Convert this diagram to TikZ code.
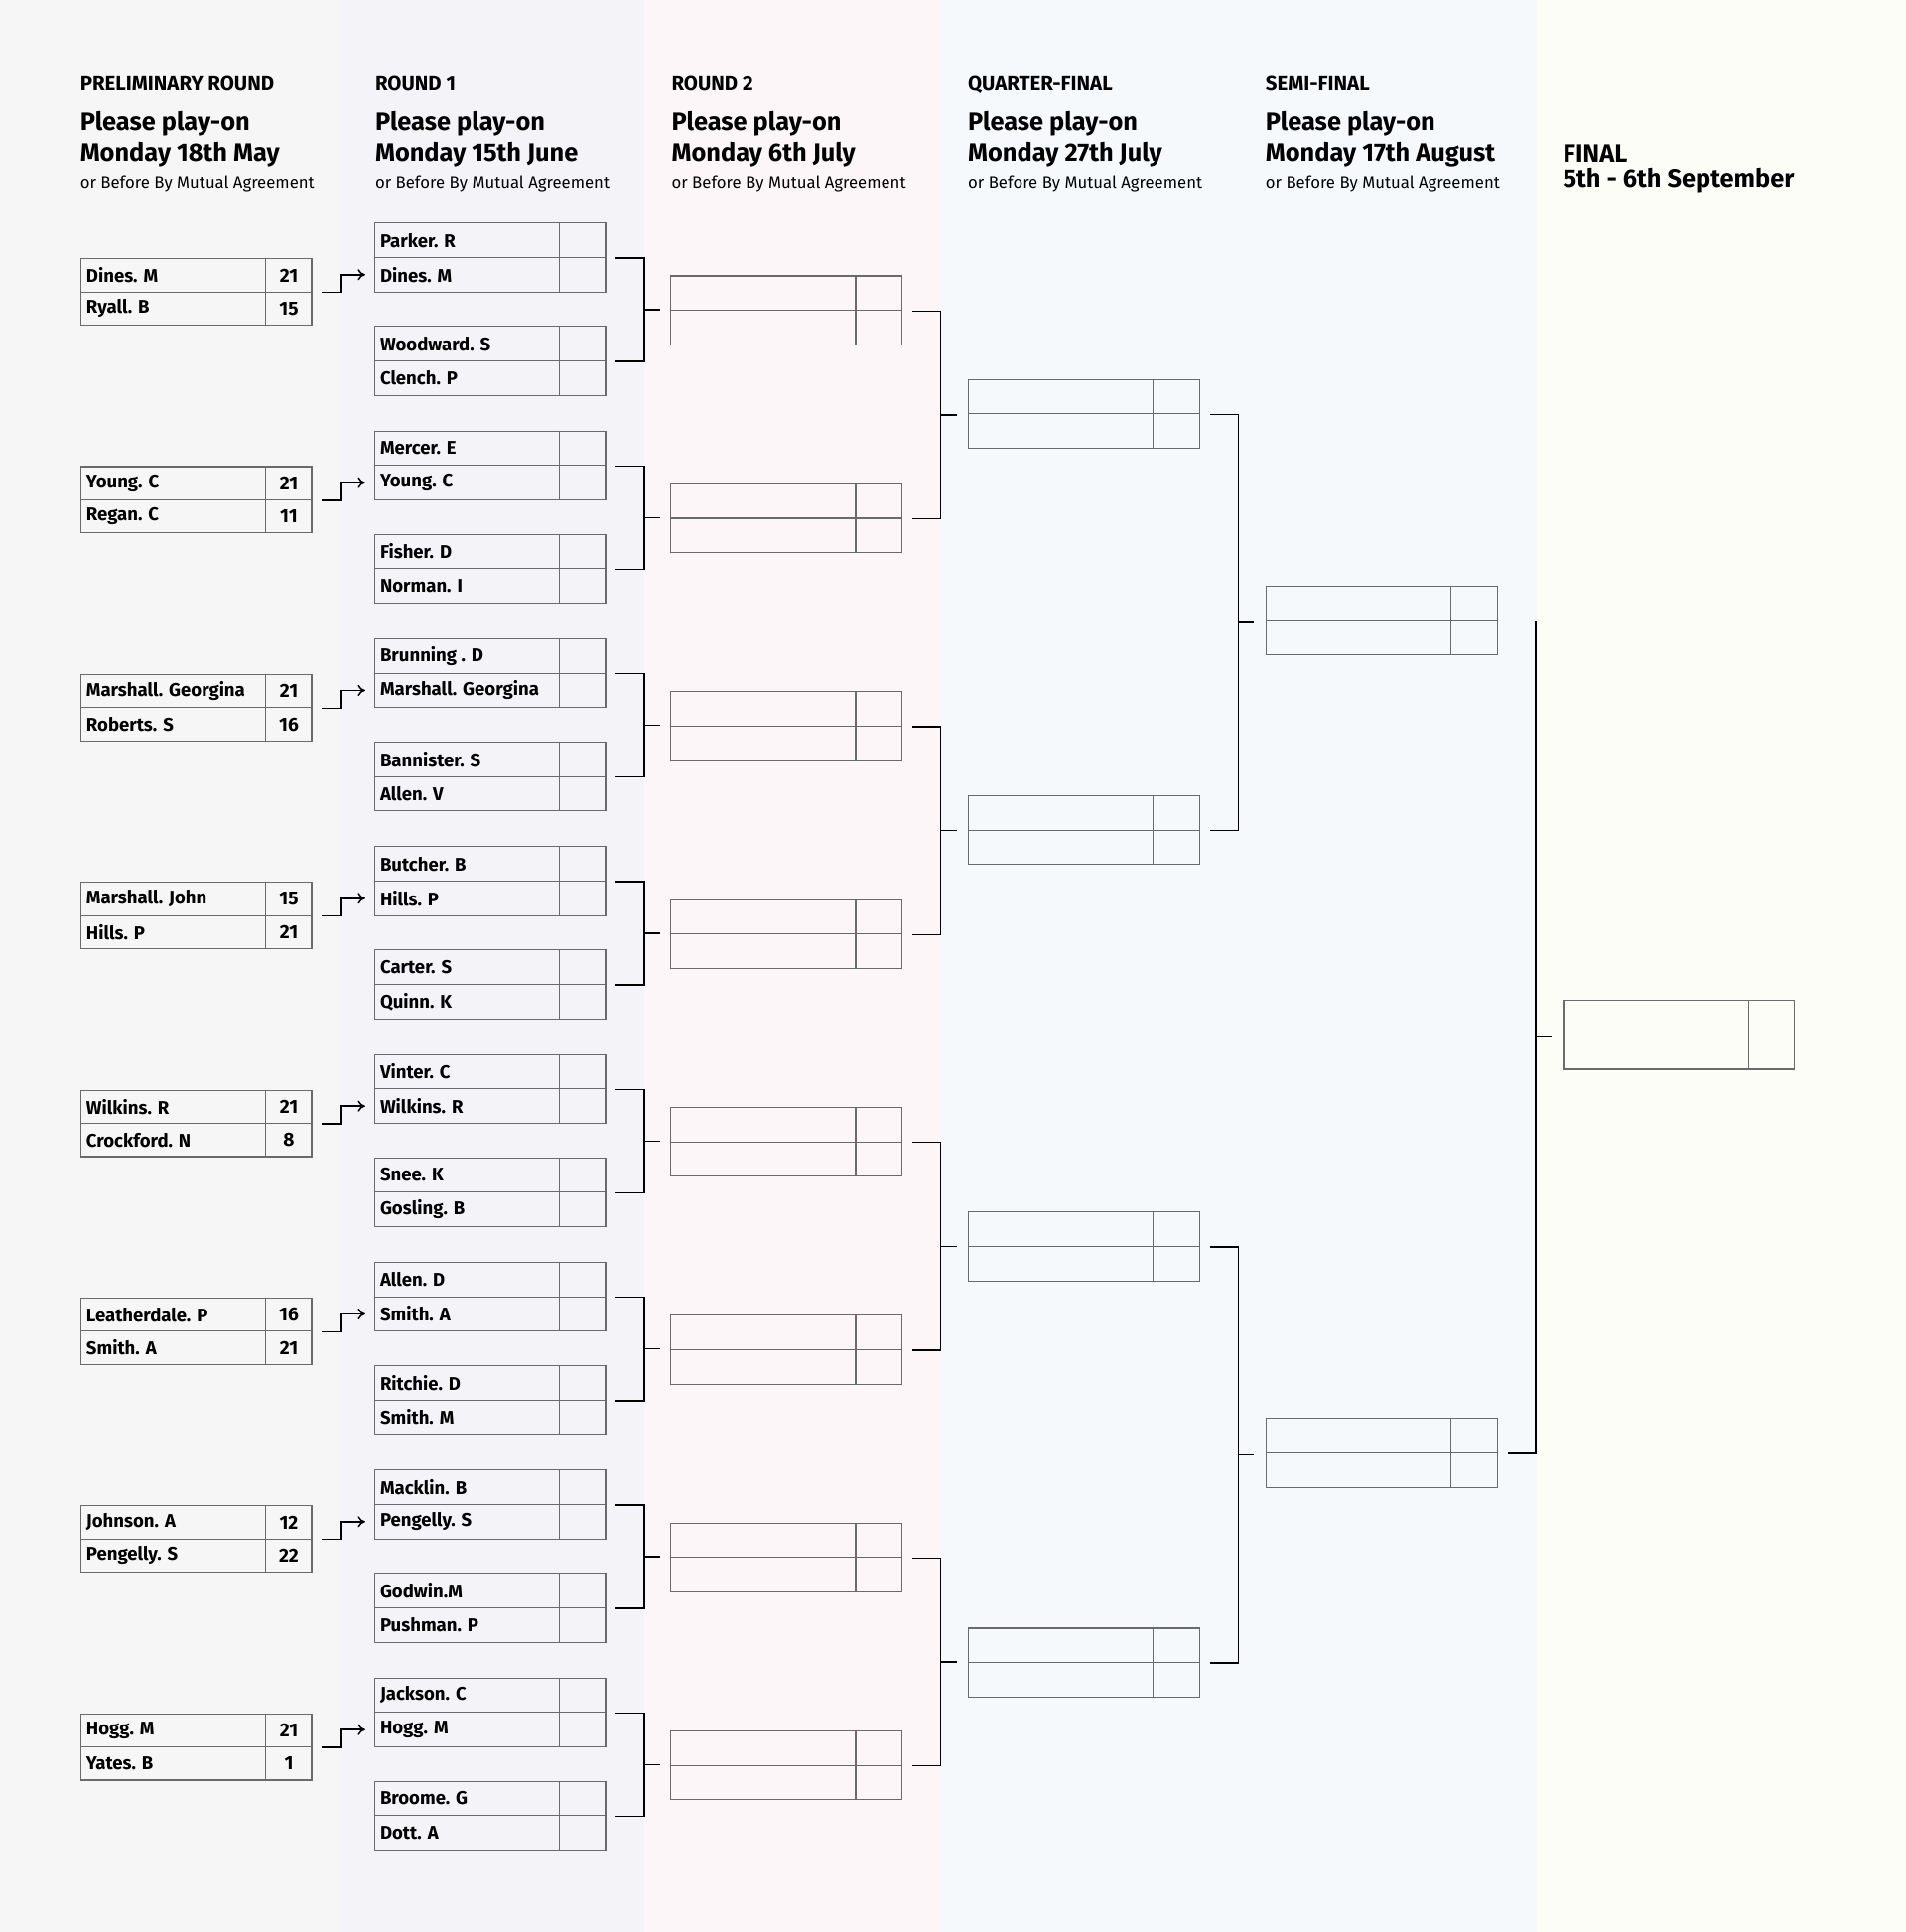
\documentclass[tikz,border=0pt]{standalone}
\usepackage{fontspec}
\setmainfont{Fira Sans}
\usetikzlibrary{calc}
\usetikzlibrary{positioning}
\usetikzlibrary{arrows.meta}

\definecolor{bgprelim}{HTML}{F6F6F6}
\definecolor{bgone}{HTML}{F3F3F8}
\definecolor{bgtwo}{HTML}{FCF6F9}
\definecolor{bgqf}{HTML}{F5F9FC}
\definecolor{bgfinal}{HTML}{FDFDF7}
\definecolor{gridgray}{HTML}{6A6A6A}

\tikzset{
  slot/.style={draw=gridgray, line width=0.9pt, anchor=north west, inner sep=0pt},
  gridline/.style={draw=gridgray, line width=0.9pt},
  player/.style={anchor=west, inner sep=0pt, font=\bfseries\fontsize{15}{16}\selectfont},
  pts/.style={inner sep=0pt, font=\bfseries\fontsize{15.5}{16}\selectfont},
  link/.style={line width=1.2pt, black},
  adv/.style={link, -{To[length=6pt,width=9pt]}},
  rndtitle/.style={anchor=base west, inner sep=0pt, font=\bfseries\fontsize{16.5}{18}\selectfont},
  playon/.style={anchor=base west, inner sep=0pt, font=\bfseries\fontsize{20.5}{22}\selectfont},
  mutual/.style={anchor=base west, inner sep=0pt, font=\fontsize{13.5}{15}\selectfont}
}

% one row of a match box
\newcommand{\entry}[7]{%
  \node[slot, minimum width=#4pt, minimum height=#5pt] (#1) at (#2,#3) {};
  \node[player] at ([xshift=5pt]#1.west) {#6};
  \draw[gridline] ([xshift=-38pt]#1.north east) -- ([xshift=-38pt]#1.south east);
  \node[pts] at ([xshift=-19pt]#1.east) {#7};
}

\begin{document}
\begin{tikzpicture}[x=1pt, y=-1pt]
  \useasboundingbox (0,0) rectangle (1550,1571);

  % Column backgrounds
  \fill[bgprelim] (0,0) rectangle (277,1571);
  \fill[bgone] (277,0) rectangle (524,1571);
  \fill[bgtwo] (524,0) rectangle (766,1571);
  \fill[bgqf] (766,0) rectangle (1250,1571);
  \fill[bgfinal] (1250,0) rectangle (1550,1571);

  % Headings
  \foreach \x/\rnd/\day in {65/PRELIMINARY ROUND/Monday 18th May, 305/ROUND 1/Monday 15th June,
      546/ROUND 2/Monday 6th July, 787/QUARTER-FINAL/Monday 27th July,
      1029/SEMI-FINAL/Monday 17th August} {
    \node[rndtitle] at (\x,74) {\rnd};
    \node[playon] at (\x,106) {Please play-on};
    \node[playon] at (\x,131) {\day};
    \node[mutual] at (\x,153) {or Before By Mutual Agreement};
  }
  \node[playon, font=\bfseries\fontsize{20.5}{22}\selectfont] at (1271,132) {FINAL};
  \node[playon, font=\bfseries\fontsize{20.5}{22}\selectfont] at (1271,152) {5th - 6th September};

  % Preliminary round
  \foreach \k/\na/\sa/\nb/\sb in {1/Dines. M/21/Ryall. B/15, 2/Young. C/21/Regan. C/11,
      3/Marshall. Georgina/21/Roberts. S/16, 4/Marshall. John/15/Hills. P/21,
      5/Wilkins. R/21/Crockford. N/8, 6/Leatherdale. P/16/Smith. A/21,
      7/Johnson. A/12/Pengelly. S/22, 8/Hogg. M/21/Yates. B/1} {
    \pgfmathsetmacro\t{210+169*(\k-1)}
    \entry{p\k a}{65}{\t}{188}{27}{\na}{\sa}
    \entry{p\k b}{65}{\t+27}{188}{27}{\nb}{\sb}
  }

  % Round 1
  \foreach \k/\na/\nb/\nc/\nd in {1/Parker. R/Dines. M/Woodward. S/Clench. P,
      2/Mercer. E/Young. C/Fisher. D/Norman. I,
      3/Brunning . D/Marshall. Georgina/Bannister. S/Allen. V,
      4/Butcher. B/Hills. P/Carter. S/Quinn. K,
      5/Vinter. C/Wilkins. R/Snee. K/Gosling. B,
      6/Allen. D/Smith. A/Ritchie. D/Smith. M,
      7/Macklin. B/Pengelly. S/Godwin.M/Pushman. P,
      8/Jackson. C/Hogg. M/Broome. G/Dott. A} {
    \pgfmathsetmacro\t{181+169*(\k-1)}
    \entry{r\k a}{304}{\t}{188}{28}{\na}{}
    \entry{r\k b}{304}{\t+28}{188}{28}{\nb}{}
    \entry{r\k c}{304}{\t+84}{188}{28}{\nc}{}
    \entry{r\k d}{304}{\t+112}{188}{28}{\nd}{}
    % winner of preliminary goes on
    \draw[adv] ([xshift=8pt]p\k a.south east) -- ++(16,0) |- ([xshift=-7pt]r\k b.west);
  }

  % Round 2
  \foreach \k in {1,...,8} {
    \pgfmathsetmacro\t{224+169*(\k-1)}
    \entry{s\k a}{545}{\t}{188}{28}{}{}
    \entry{s\k b}{545}{\t+28}{188}{28}{}{}
    \draw[link] ([xshift=8pt]r\k a.south east) -- ++(23,0) |- ([xshift=8pt]r\k c.south east);
    \draw[link] ($(r\k a.south east)!.5!(r\k c.south east)+(31,0)$) -- ++(13,0);
  }

  % Quarter-final
  \foreach \k in {1,...,4} {
    \pgfmathsetmacro\t{308+338.5*(\k-1)}
    \pgfmathtruncatemacro\i{2*\k-1}
    \pgfmathtruncatemacro\j{2*\k}
    \entry{q\k a}{787}{\t}{188}{28}{}{}
    \entry{q\k b}{787}{\t+28}{188}{28}{}{}
    \draw[link] ([xshift=8pt]s\i a.south east) -- ++(23,0) |- ([xshift=8pt]s\j a.south east);
    \draw[link] ($(s\i a.south east)!.5!(s\j a.south east)+(31,0)$) -- ++(13,0);
  }

  % Semi-final
  \foreach \k in {1,2} {
    \pgfmathsetmacro\t{476+677*(\k-1)}
    \pgfmathtruncatemacro\i{2*\k-1}
    \pgfmathtruncatemacro\j{2*\k}
    \entry{f\k a}{1029}{\t}{188}{28}{}{}
    \entry{f\k b}{1029}{\t+28}{188}{28}{}{}
    \draw[link] ([xshift=8pt]q\i a.south east) -- ++(23,0) |- ([xshift=8pt]q\j a.south east);
    \draw[link] ($(q\i a.south east)!.5!(q\j a.south east)+(31,0)$) -- ++(13,0);
  }

  % Final
  \entry{fina}{1271}{813}{188}{28}{}{}
  \entry{finb}{1271}{841}{188}{28}{}{}
  \draw[link] ([xshift=8pt]f1a.south east) -- ++(23,0) |- ([xshift=8pt]f2a.south east);
  \draw[link] ($(f1a.south east)!.5!(f2a.south east)+(31,0)$) -- ++(13,0);
\end{tikzpicture}
\end{document}
